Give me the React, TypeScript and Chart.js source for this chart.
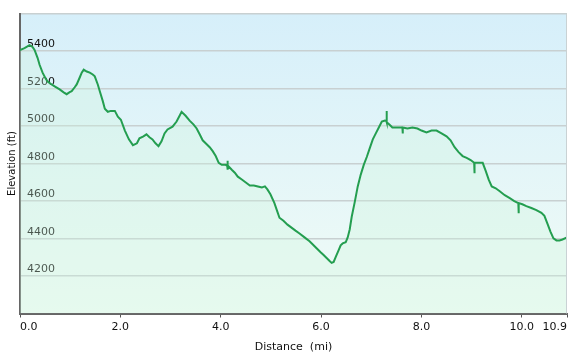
import React, { useEffect, useRef } from 'react';
import { Chart, registerables } from 'chart.js';

Chart.register(...registerables);

const distances = [
  0.0, 0.09, 0.19, 0.25, 0.29, 0.35, 0.39, 0.45, 0.51, 0.55, 0.63, 0.69, 0.79, 0.87, 0.93, 0.99,
  1.03, 1.09, 1.13, 1.19, 1.23, 1.27, 1.33, 1.39, 1.45, 1.49, 1.55, 1.59, 1.65, 1.69, 1.75, 1.81,
  1.89, 1.95, 2.01, 2.09, 2.17, 2.25, 2.33, 2.38, 2.46, 2.52, 2.58, 2.64, 2.7, 2.76, 2.82, 2.88,
  2.94, 3.04, 3.12, 3.18, 3.22, 3.3, 3.38, 3.46, 3.52, 3.58, 3.64, 3.72, 3.78, 3.84, 3.9, 3.96,
  4.02, 4.1, 4.13, 4.135, 4.14, 4.145, 4.22, 4.28, 4.34, 4.42, 4.5, 4.58, 4.66, 4.74, 4.82, 4.88,
  4.93, 4.99, 5.07, 5.13, 5.17, 5.25, 5.33, 5.41, 5.49, 5.57, 5.67, 5.77, 5.85, 5.91, 5.99, 6.05,
  6.11, 6.17, 6.21, 6.25, 6.29, 6.35, 6.39, 6.43, 6.49, 6.53, 6.57, 6.61, 6.67, 6.73, 6.79, 6.85,
  6.91, 6.97, 7.03, 7.09, 7.15, 7.21, 7.27, 7.3, 7.305, 7.31, 7.36, 7.42, 7.52, 7.62, 7.625, 7.63,
  7.72, 7.82, 7.92, 8.0, 8.1, 8.2, 8.3, 8.4, 8.5, 8.58, 8.66, 8.74, 8.82, 8.9, 8.98, 9.05,
  9.055, 9.06, 9.14, 9.22, 9.28, 9.34, 9.4, 9.48, 9.56, 9.66, 9.76, 9.85, 9.93, 9.935, 9.94, 10.01,
  10.09, 10.19, 10.29, 10.39, 10.45, 10.51, 10.57, 10.63, 10.69, 10.75, 10.81, 10.9,
];

const elevations = [
  5406, 5416, 5432, 5422, 5406, 5364, 5327, 5285, 5254, 5238, 5222, 5212, 5196, 5180, 5170, 5181,
  5186, 5207, 5222, 5259, 5285, 5301, 5291, 5285, 5275, 5265, 5222, 5186, 5133, 5092, 5076, 5081,
  5081, 5050, 5034, 4976, 4929, 4898, 4908, 4935, 4945, 4956, 4940, 4929, 4908, 4893, 4919, 4961,
  4982, 4997, 5024, 5055, 5076, 5055, 5029, 5008, 4987, 4956, 4924, 4903, 4887, 4866, 4840, 4804,
  4793, 4793, 4788, 4815, 4768, 4788, 4767, 4751, 4730, 4715, 4699, 4683, 4683, 4678, 4673, 4678,
  4662, 4636, 4589, 4542, 4511, 4495, 4474, 4458, 4442, 4427, 4406, 4385, 4364, 4348, 4327, 4312,
  4296, 4280, 4270, 4275, 4301, 4338, 4364, 4374, 4380, 4406, 4448, 4516, 4594, 4678, 4741, 4793,
  4835, 4882, 4929, 4961, 4992, 5024, 5029, 5027, 5080, 5020, 5008, 4992, 4992, 4992, 4960, 4992,
  4987, 4992, 4987, 4976, 4966, 4976, 4976, 4961, 4945, 4924, 4887, 4861, 4840, 4830, 4819, 4804,
  4748, 4804, 4804, 4804, 4761, 4714, 4678, 4668, 4652, 4631, 4615, 4600, 4589, 4535, 4589, 4583,
  4573, 4563, 4552, 4537, 4521, 4479, 4437, 4401, 4390, 4390, 4395, 4406,
];

const xTickValues = [0, 2, 4, 6, 8, 10, 10.9];
const yMin = 4000;
const yMax = 5600;
const yStep = 200;

const FONT = 'DejaVu Sans';

const backgroundPlugin = {
  id: 'plotBackground',
  beforeDraw(chart: any) {
    const { ctx, chartArea } = chart;
    const { left, top, right, bottom } = chartArea;
    const g = ctx.createLinearGradient(0, top, 0, bottom);
    g.addColorStop(0, '#d6effa');
    g.addColorStop(1, '#f1fcf6');
    ctx.save();
    ctx.fillStyle = g;
    ctx.fillRect(left, top, right - left, bottom - top);
    ctx.restore();
  },
  afterDraw(chart: any) {
    const { ctx, chartArea } = chart;
    const { top, right, bottom } = chartArea;
    ctx.save();
    ctx.strokeStyle = '#c9d2d4';
    ctx.lineWidth = 1;
    ctx.beginPath();
    ctx.moveTo(right - 0.5, top);
    ctx.lineTo(right - 0.5, bottom);
    ctx.stroke();
    ctx.restore();
  },
};

export default function App() {
  const canvasRef = useRef<HTMLCanvasElement | null>(null);

  useEffect(() => {
    if (!canvasRef.current) return;
    const points = distances.map((d, i) => ({ x: d, y: elevations[i] }));
    const chart = new Chart(canvasRef.current, {
      type: 'line',
      data: {
        datasets: [
          {
            data: points,
            borderColor: '#249e50',
            borderWidth: 2,
            backgroundColor: 'rgba(205,245,218,0.3)',
            fill: 'start',
            pointRadius: 0,
            tension: 0,
          },
        ],
      },
      plugins: [backgroundPlugin],
      options: {
        animation: false,
        responsive: false,
        maintainAspectRatio: false,
        layout: { padding: { top: 8, right: 5, bottom: 0, left: 0 } },
        plugins: {
          legend: { display: false },
          tooltip: { enabled: false },
        },
        scales: {
          x: {
            type: 'linear',
            min: 0,
            max: 10.9,
            afterBuildTicks: (scale: any) => {
              scale.ticks = xTickValues.map((v) => ({ value: v }));
            },
            afterFit: (scale: any) => {
              scale.height = 44.5;
            },
            ticks: {
              align: 'inner',
              padding: 3,
              color: '#111',
              font: { family: FONT, size: 11 },
              callback: (v: any) => Number(v).toFixed(1),
            },
            grid: {
              drawOnChartArea: false,
              drawTicks: true,
              tickLength: 4,
              color: '#555',
              lineWidth: 1,
            },
            border: { display: true, color: '#666', width: 2 },
            title: {
              display: true,
              text: 'Distance  (mi)',
              color: '#111',
              font: { family: FONT, size: 11 },
              padding: { top: 0, bottom: 4 },
            },
          },
          y: {
            type: 'linear',
            min: yMin,
            max: yMax,
            afterFit: (scale: any) => {
              scale.width = 20;
            },
            ticks: {
              stepSize: yStep,
              mirror: true,
              padding: 7,
              color: '#111',
              font: { family: FONT, size: 11 },
              callback: (v: any) => (v === yMin || v === yMax ? '' : [String(v), '']),
            },
            grid: {
              drawTicks: false,
              color: '#c8d0d1',
              lineWidth: 1.5,
            },
            border: { display: true, color: '#666', width: 2 },
            title: {
              display: true,
              text: 'Elevation (ft)',
              color: '#111',
              font: { family: FONT, size: 10 },
              padding: { top: 6.5, bottom: 0 },
            },
          },
        },
      },
    });
    return () => chart.destroy();
  }, []);

  return (
    <div style={{ position: 'absolute', left: 0, top: 0, width: 572, height: 358, background: '#fff' }}>
      <canvas ref={canvasRef} width={572} height={358} style={{ display: 'block' }} />
    </div>
  );
}
